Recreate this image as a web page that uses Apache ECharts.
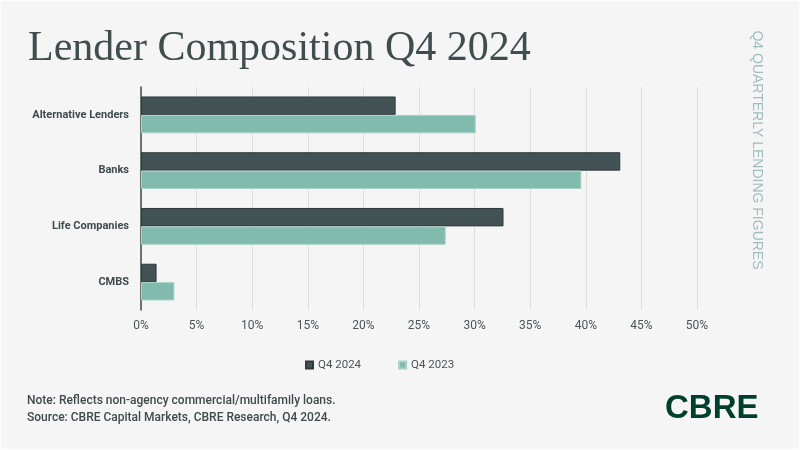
<!DOCTYPE html>
<html>
<head>
<meta charset="utf-8">
<script src="https://cdn.jsdelivr.net/npm/echarts@6/dist/echarts.min.js"></script>
<style>
html,body{margin:0;padding:0;background:#f5f5f5;}
#main{width:800px;height:450px;}
</style>
</head>
<body>
<div id="main"></div>
<script>
const categories = ["Alternative Lenders", "Banks", "Life Companies", "CMBS"];
const seriesNames = ["Q4 2024", "Q4 2023"];
const q4_2024 = [22.9, 43.1, 32.6, 1.4];
const q4_2023 = [30.1, 39.6, 27.4, 3.0];
const xTicks = [0, 5, 10, 15, 20, 25, 30, 35, 40, 45, 50];

const chart = echarts.init(document.getElementById('main'), null, {renderer: 'canvas'});
const option = {
  backgroundColor: '#f5f5f5',
  animation: false,
  title: {
    text: 'Lender Composition Q4 2024',
    left: 23, top: 23,
    textStyle: {fontFamily: 'Liberation Serif', fontSize: 42, fontWeight: 'normal', color: '#3f4d4f'}
  },
  legend: {
    data: seriesNames,
    left: 300, top: 354,
    itemWidth: 7, itemHeight: 7, itemGap: 37,
    icon: 'rect',
    textStyle: {fontFamily: 'Roboto', fontSize: 11.5, color: '#4a5557'}
  },
  grid: {left: 141, right: 103, top: 87, bottom: 140, containLabel: false},
  xAxis: {
    type: 'value', min: xTicks[0], max: xTicks[xTicks.length - 1], interval: 5,
    axisLine: {show: false}, axisTick: {show: false},
    splitLine: {lineStyle: {color: '#dcdedd', width: 1}},
    axisLabel: {formatter: '{value}%', fontFamily: 'Roboto', fontSize: 12, color: '#4a5557', margin: 10}
  },
  yAxis: {
    type: 'category', data: categories, inverse: true,
    axisLine: {lineStyle: {color: '#3e4a4c', width: 1.5}},
    axisTick: {show: false},
    axisLabel: {fontFamily: 'Roboto', fontSize: 11, fontWeight: 'bold', color: '#3e4a4c', margin: 12}
  },
  series: [
    {name: seriesNames[0], type: 'bar', data: q4_2024, barGap: '0%', barCategoryGap: '34%',
     itemStyle: {color: '#435254', borderColor: '#2f3a3b', borderWidth: 1}},
    {name: seriesNames[1], type: 'bar', data: q4_2023, barGap: '0%', barCategoryGap: '34%',
     itemStyle: {color: '#80bbad', borderColor: '#a8d2c7', borderWidth: 1}}
  ],
  graphic: [
    {type: 'rect', shape: {x: 0.5, y: 0.5, width: 799, height: 449},
     style: {fill: 'none', stroke: '#fcfcfc', lineWidth: 2}},
    {type: 'text', x: 757, y: 150, rotation: -Math.PI / 2,
     style: {text: 'Q4 QUARTERLY LENDING FIGURES', fill: '#9fbdbd', font: '14px "Liberation Sans"', textAlign: 'center', textVerticalAlign: 'middle'}},
    {type: 'text', left: 27, top: 392,
     style: {text: 'Note: Reflects non-agency commercial/multifamily loans.\nSource: CBRE Capital Markets, CBRE Research, Q4 2024.', fill: '#3e4a4c', font: '500 12px Roboto', lineHeight: 17}},
    {type: 'text', left: 665, top: 392,
     style: {text: 'CBRE', fill: '#003f2d', font: 'bold 33px "Liberation Sans"'}}
  ]
};
chart.setOption(option);
</script>
</body>
</html>
